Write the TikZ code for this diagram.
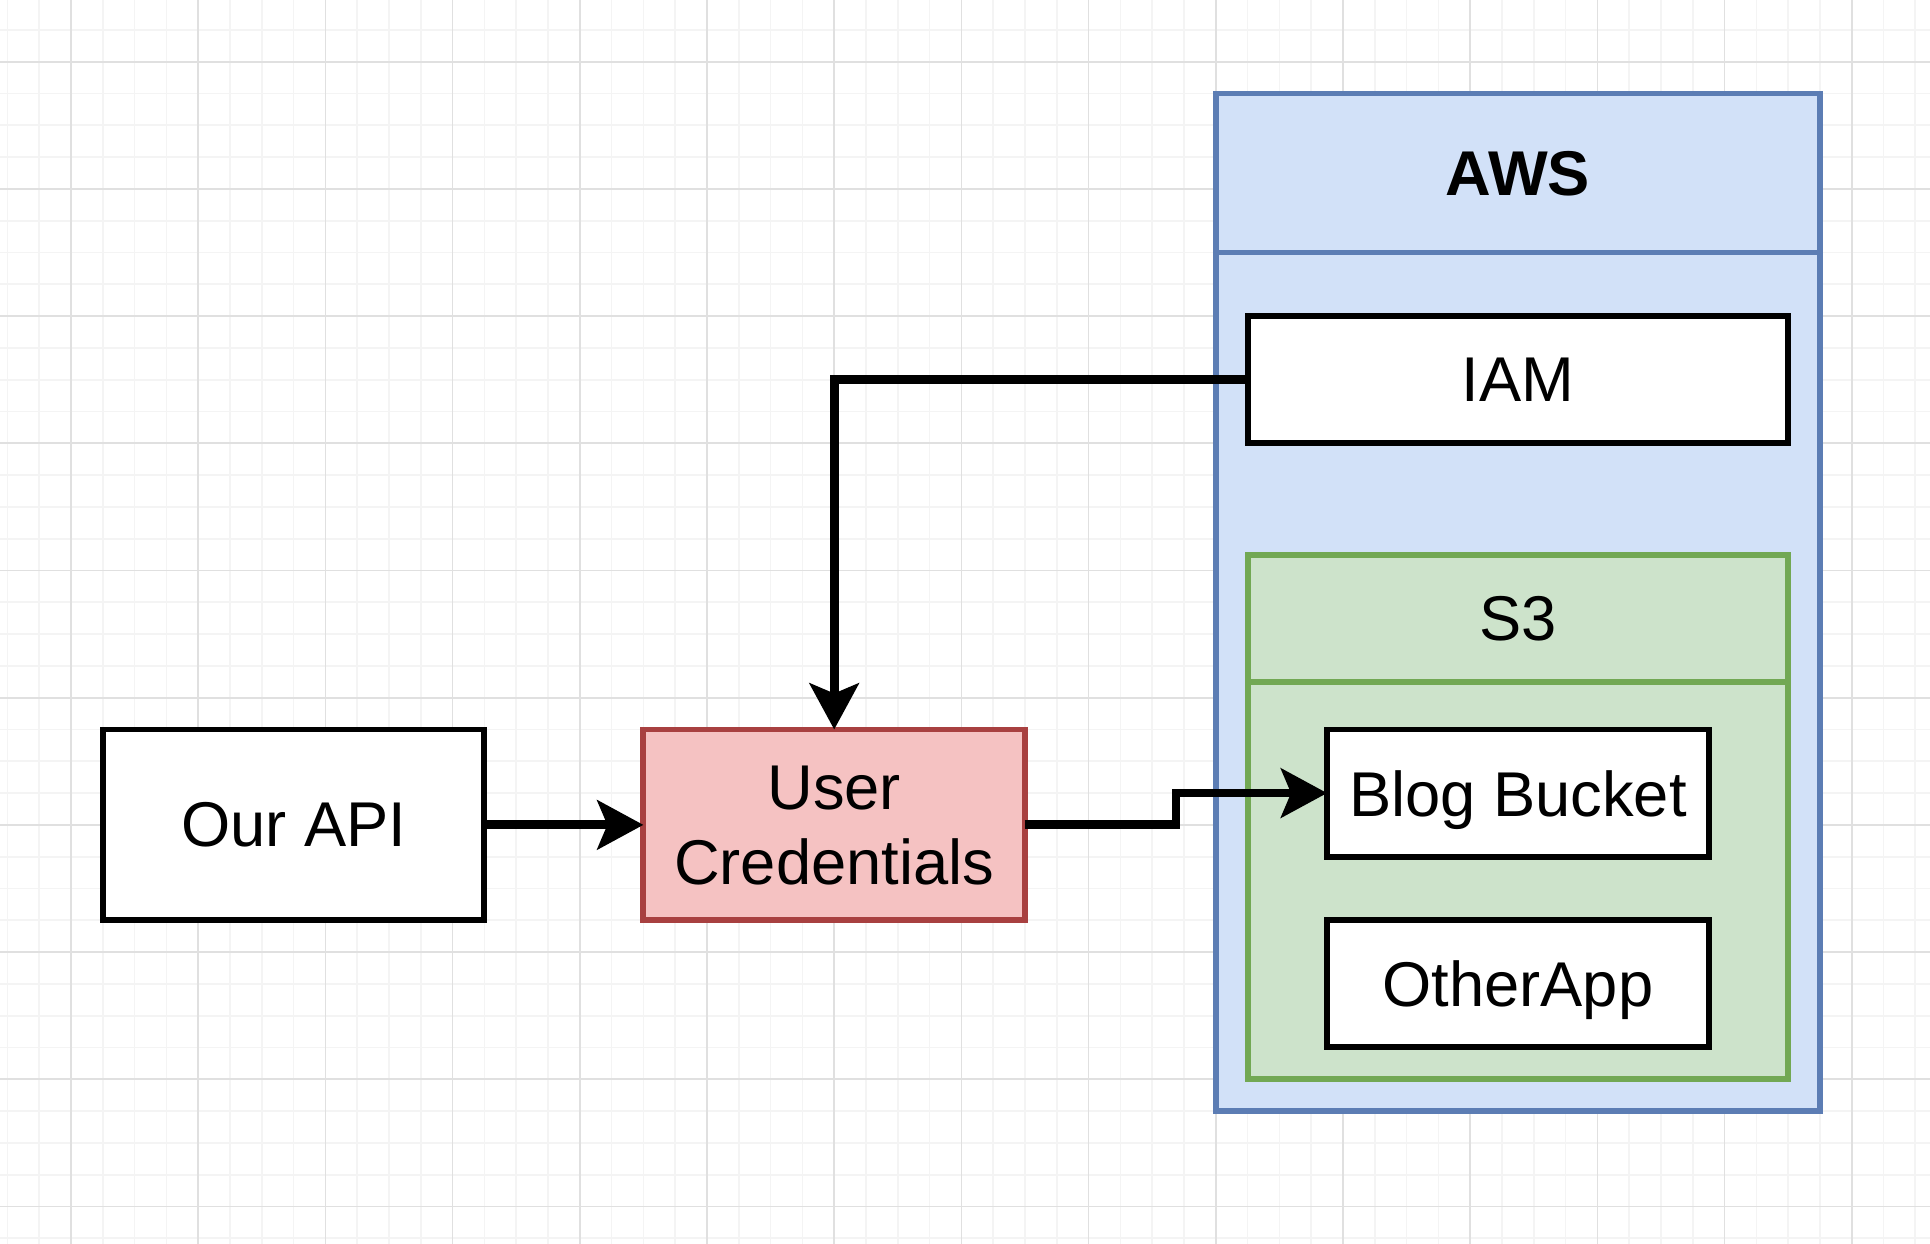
\documentclass[tikz,border=0pt]{standalone}
\usepackage{fontspec}
\setmainfont{Liberation Sans}
\usetikzlibrary{arrows.meta,calc}
\definecolor{awsfill}{RGB}{210,225,248}
\definecolor{awsdraw}{RGB}{92,125,180}
\definecolor{sthreefill}{RGB}{205,227,203}
\definecolor{sthreedraw}{RGB}{114,168,84}
\definecolor{credfill}{RGB}{245,194,194}
\definecolor{creddraw}{RGB}{168,64,64}
\definecolor{minorgrid}{RGB}{244,244,244}
\definecolor{majorgrid}{RGB}{224,224,224}

\begin{document}
\begin{tikzpicture}[x=0.318cm, y=-0.318cm,
  box/.style={draw=black, fill=white, line width=1.7pt, outer sep=0pt, inner sep=0pt,
    text depth=0pt, align=center, font=\fontsize{18}{21.34}\selectfont},
  wide/.style={minimum width=3.816cm, minimum height=1.908cm},
  small/.style={minimum width=3.816cm, minimum height=1.272cm},
  awsbox/.style={box, draw=awsdraw, fill=awsfill, minimum width=6.042cm},
  sthreebox/.style={box, draw=sthreedraw, fill=sthreefill, minimum width=5.406cm},
  flow/.style={line width=2.5pt, line join=miter, -{Stealth[length=0.46cm, width=0.49cm, inset=0.1cm]}}]
\fill[white] (-2.233,-1.94) rectangle (58.46,37.18);
\useasboundingbox (-2.233,-1.94) rectangle (58.46,37.18);
\foreach \i in {-2,...,58} \draw[minorgrid, line width=0.5pt] (\i,-1.94) -- (\i,37.18);
\foreach \j in {-1,...,37} \draw[minorgrid, line width=0.5pt] (-2.233,\j) -- (58.46,\j);
\foreach \i in {0,4,...,56} \draw[majorgrid, line width=0.5pt] (\i,-1.94) -- (\i,37.18);
\foreach \j in {0,4,...,36} \draw[majorgrid, line width=0.5pt] (-2.233,\j) -- (58.46,\j);

\node[box, wide] (api) at (7,24) {Our API};
\node[box, wide, draw=creddraw, fill=credfill] (cred) at (24,24) {User\\Credentials};
\node[awsbox, minimum height=10.176cm] (aws) at (45.5,17) {};
\node[awsbox, minimum height=1.59cm] (awshead) at (45.5,3.5) {\bfseries AWS};
\node[box, minimum width=5.406cm, minimum height=1.272cm] (iam) at (45.5,10) {IAM};
\node[sthreebox, minimum height=5.247cm] (sthree) at (45.5,23.75) {};
\node[sthreebox, minimum height=1.272cm] (sthreehead) at (45.5,17.5) {S3};
\node[box, small] (blog) at (45.5,23) {Blog Bucket};
\node[box, small] (other) at (45.5,29) {OtherApp};

\draw[flow] (api) -- (cred);
\draw[flow] (iam.west) -| (cred.north);
\draw[flow] (cred.east) -| ($(cred.east)!0.5!(blog.west)$) |- (blog.west);
\end{tikzpicture}
\end{document}
